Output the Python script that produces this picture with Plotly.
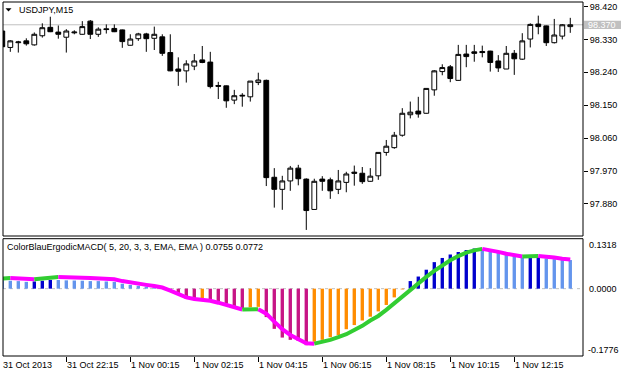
import plotly.graph_objects as go

# ---------------- data ----------------
OPEN = [98.353, 98.308, 98.321, 98.326, 98.315, 98.340, 98.363, 98.350, 98.336, 98.348,
        98.344, 98.380, 98.344, 98.359, 98.360, 98.356, 98.314, 98.332, 98.345, 98.333,
        98.337, 98.294, 98.249, 98.244, 98.257, 98.274, 98.268, 98.204, 98.203, 98.164,
        98.175, 98.173, 98.212, 98.218, 97.953, 97.920, 97.943, 97.978, 97.948, 97.865,
        97.948, 97.946, 97.920, 97.939, 97.967, 97.964, 97.942, 97.957, 98.021, 98.034,
        98.068, 98.124, 98.134, 98.128, 98.192, 98.242, 98.255, 98.218, 98.290, 98.296,
        98.297, 98.298, 98.271, 98.249, 98.292, 98.276, 98.331, 98.372, 98.367, 98.321,
        98.339, 98.365]
HIGH = [98.356, 98.328, 98.326, 98.333, 98.349, 98.374, 98.392, 98.368, 98.358, 98.355,
        98.380, 98.383, 98.363, 98.371, 98.371, 98.357, 98.344, 98.348, 98.348, 98.365,
        98.344, 98.344, 98.281, 98.273, 98.290, 98.312, 98.296, 98.214, 98.204, 98.192,
        98.183, 98.216, 98.239, 98.220, 97.978, 97.957, 97.984, 97.987, 97.950, 97.949,
        97.956, 97.952, 97.973, 97.968, 97.985, 97.981, 97.978, 98.021, 98.055, 98.077,
        98.142, 98.160, 98.173, 98.196, 98.246, 98.262, 98.260, 98.315, 98.315, 98.315,
        98.313, 98.299, 98.287, 98.312, 98.301, 98.347, 98.374, 98.395, 98.368, 98.386,
        98.372, 98.389]
LOW = [98.307, 98.296, 98.294, 98.313, 98.313, 98.335, 98.350, 98.332, 98.294, 98.344,
       98.343, 98.331, 98.337, 98.346, 98.350, 98.307, 98.313, 98.326, 98.296, 98.301,
       98.285, 98.243, 98.203, 98.212, 98.246, 98.265, 98.196, 98.167, 98.143, 98.153,
       98.146, 98.160, 98.205, 97.929, 97.870, 97.864, 97.916, 97.931, 97.809, 97.865,
       97.916, 97.894, 97.907, 97.912, 97.930, 97.935, 97.941, 97.946, 98.012, 98.031,
       98.064, 98.114, 98.116, 98.127, 98.176, 98.232, 98.213, 98.217, 98.254, 98.269,
       98.281, 98.242, 98.241, 98.249, 98.233, 98.274, 98.308, 98.344, 98.312, 98.319,
       98.330, 98.348]
CLOSE = [98.310, 98.326, 98.323, 98.318, 98.344, 98.362, 98.351, 98.344, 98.353, 98.350,
         98.365, 98.344, 98.358, 98.357, 98.351, 98.324, 98.331, 98.345, 98.332, 98.344,
         98.292, 98.244, 98.243, 98.263, 98.271, 98.267, 98.201, 98.202, 98.162, 98.176,
         98.177, 98.216, 98.219, 97.952, 97.920, 97.943, 97.978, 97.949, 97.862, 97.942,
         97.942, 97.916, 97.943, 97.962, 97.964, 97.941, 97.956, 98.021, 98.038, 98.068,
         98.128, 98.131, 98.126, 98.196, 98.244, 98.253, 98.223, 98.289, 98.283, 98.292,
         98.294, 98.267, 98.252, 98.292, 98.277, 98.326, 98.371, 98.365, 98.321, 98.342,
         98.370, 98.370]

HIST = [0.022, 0.021, 0.020, 0.018, 0.019, 0.021, 0.023, 0.0228, 0.022, 0.0215,
        0.021, 0.020, 0.020, 0.019, 0.018, 0.013, 0.010, 0.0075, 0.0055, 0.004,
        0.001, -0.003, -0.016, -0.027, -0.028, -0.025, -0.030, -0.034, -0.040, -0.047,
        -0.053, -0.049, -0.048, -0.075, -0.106, -0.129, -0.135, -0.138, -0.149, -0.140,
        -0.135, -0.128, -0.123, -0.107, -0.096, -0.084, -0.074, -0.060, -0.043, -0.023,
        -0.002, 0.020, 0.032, 0.050, 0.070, 0.081, 0.090, 0.097, 0.102, 0.106,
        0.104, 0.100, 0.095, 0.091, 0.086, 0.082, 0.083, 0.084, 0.080, 0.078,
        0.0765, 0.0755]
# L = light blue, D = dark blue, O = orange, P = violet-red
HIST_CODES = ("LLLL" "DDD" "LLLLLLLLLLLLLL" "PPPP" "O" "PPPPP" "OO" "PPPPPP"
              "OOOOOOOOOOOO" "DDDDDDDDD" "LLLLLL" "DD" "LLLL")

SIGNAL = [0.027, 0.028, 0.027, 0.026, 0.025, 0.027, 0.029, 0.031, 0.031, 0.030,
          0.029, 0.028, 0.027, 0.026, 0.025, 0.020, 0.016, 0.013, 0.010, 0.007,
          0.003, -0.005, -0.014, -0.023, -0.027, -0.029, -0.032, -0.037, -0.043, -0.049,
          -0.055, -0.055, -0.054, -0.066, -0.087, -0.107, -0.122, -0.134, -0.144, -0.145,
          -0.141, -0.135, -0.128, -0.120, -0.109, -0.098, -0.084, -0.072, -0.056, -0.038,
          -0.023, -0.004, 0.014, 0.031, 0.047, 0.062, 0.075, 0.086, 0.095, 0.101,
          0.105, 0.102, 0.097, 0.092, 0.088, 0.085, 0.085, 0.086, 0.085, 0.082,
          0.079, 0.0772]
# G = green (rising), M = magenta (falling)
SIG_CODES = ("GG" "MMM" "GGG" "MMMMMMMMMMMMMMMMMMMMMMM" "GG" "MMMMMMM"
             "GGGGGGGGGGGGGGGGGGGGG" "MMMMM" "GG" "MMMM")

TICK_POS = [0, 8, 16, 24, 32, 40, 48, 56, 64]
TICK_LABELS = ["31 Oct 2013", "31 Oct 22:15", "1 Nov 00:15", "1 Nov 02:15", "1 Nov 04:15",
               "1 Nov 06:15", "1 Nov 08:15", "1 Nov 10:15", "1 Nov 12:15"]
PRICE_TICKS = [98.420, 98.330, 98.240, 98.150, 98.060, 97.970, 97.880]
IND_MAX, IND_MIN = 0.1318, -0.1776
LAST_PRICE = 98.370
SYMBOL = "USDJPY,M15"
IND_NAME = "ColorBlauErgodicMACD( 5, 20, 3, 3, EMA, EMA ) 0.0755 0.0772"

# ---------------- style / layout ----------------
W, H = 622, 374
ML, MR, MTOP, MB = 3, 39, 2, 18
PW, PH = W - ML - MR, H - MTOP - MB
X_MIN, X_MAX = 0.0875, 72.59
Y_MIN, Y_MAX = 97.7924, 98.4323
MAIN_DOM = [(H - MB - 236) / PH, 1.0]
IND_DOM = [0.0, (H - MB - 238.7) / PH]
FONT = "Liberation Sans, Arial, sans-serif"
FS = 9

HCOL = {"L": "#6495ED", "D": "#0000CD", "O": "#FF8C00", "P": "#C71585"}
SCOL = {"G": "#32CD32", "M": "#FF00FF"}

X = list(range(len(OPEN)))

def px_x(p):
    return (p - ML) / PW

def px_y(p):
    return (H - MB - p) / PH

fig = go.Figure()

fig.add_trace(go.Candlestick(
    x=X, open=OPEN, high=HIGH, low=LOW, close=CLOSE,
    xaxis="x", yaxis="y", whiskerwidth=0,
    increasing=dict(line=dict(color="black", width=1), fillcolor="white"),
    decreasing=dict(line=dict(color="black", width=1), fillcolor="black"),
    showlegend=False, hoverinfo="skip"))

fig.add_trace(go.Bar(
    x=X, y=HIST, xaxis="x2", yaxis="y2", width=0.42,
    marker=dict(color=[HCOL[c] for c in HIST_CODES], line=dict(width=0)),
    showlegend=False, hoverinfo="skip"))

# signal line: segment (i-1 -> i) coloured by code of i, grouped into runs
runs = []
start = 1
for i in range(2, len(X) + 1):
    if i == len(X) or SIG_CODES[i] != SIG_CODES[start]:
        runs.append((start, i - 1))
        start = i
for a, b in runs:
    xs = X[a - 1:b + 1]
    ys = SIGNAL[a - 1:b + 1]
    fig.add_trace(go.Scatter(
        x=xs, y=ys, xaxis="x2", yaxis="y2", mode="lines",
        line=dict(color=SCOL[SIG_CODES[a]], width=4),
        showlegend=False, hoverinfo="skip"))

shapes = [
    dict(type="line", xref="paper", yref="y", x0=0, x1=1, y0=LAST_PRICE, y1=LAST_PRICE,
         line=dict(color="#C0C0C0", width=1), layer="below"),
    dict(type="line", xref="paper", yref="y2", x0=0, x1=1, y0=0, y1=0,
         line=dict(color="#C0C0C0", width=1, dash="3px,4px"), layer="below"),
    dict(type="rect", xref="paper", yref="paper", x0=0, x1=1, y0=MAIN_DOM[0], y1=1,
         line=dict(color="black", width=1), fillcolor="rgba(0,0,0,0)", layer="above"),
    dict(type="rect", xref="paper", yref="paper", x0=0, x1=1, y0=0, y1=IND_DOM[1],
         line=dict(color="black", width=1), fillcolor="rgba(0,0,0,0)", layer="above"),
    dict(type="rect", xref="paper", yref="y", x0=px_x(584), x1=px_x(621),
         y0=LAST_PRICE - 0.0112, y1=LAST_PRICE + 0.0112,
         fillcolor="#C0C0C0", line=dict(width=0), layer="above"),
    dict(type="path", xref="paper", yref="paper",
         path="M {} {} L {} {} L {} {} Z".format(px_x(5.5), px_y(8.3), px_x(11.5), px_y(8.3),
                                                 px_x(8.5), px_y(11.6)),
         fillcolor="black", line=dict(width=0), layer="above"),
]

ann = [
    dict(text=SYMBOL, xref="paper", yref="paper", x=px_x(17), y=px_y(9.7),
         xanchor="left", yanchor="middle", showarrow=False,
         font=dict(family=FONT, size=FS, color="black")),
    dict(text=IND_NAME, xref="paper", yref="paper", x=px_x(4.5), y=px_y(246.7),
         xanchor="left", yanchor="middle", showarrow=False,
         font=dict(family=FONT, size=FS, color="black")),
    dict(text="{:.3f}".format(LAST_PRICE), xref="paper", yref="y", x=1, y=LAST_PRICE,
         xanchor="left", yanchor="middle", xshift=3, showarrow=False,
         font=dict(family=FONT, size=FS, color="white")),
    dict(text="{:.4f}".format(IND_MAX), xref="paper", yref="y2", x=1, y=IND_MAX,
         xanchor="left", yanchor="top", xshift=4, yshift=1, showarrow=False,
         font=dict(family=FONT, size=FS, color="black")),
    dict(text="{:.4f}".format(0.0), xref="paper", yref="y2", x=1, y=0,
         xanchor="left", yanchor="middle", xshift=4, showarrow=False,
         font=dict(family=FONT, size=FS, color="black")),
    dict(text="{:.4f}".format(IND_MIN), xref="paper", yref="y2", x=1, y=IND_MIN,
         xanchor="left", yanchor="bottom", xshift=3, yshift=-1, showarrow=False,
         font=dict(family=FONT, size=FS, color="black")),
]
for pos, lab in zip(TICK_POS, TICK_LABELS):
    ann.append(dict(text=lab, xref="paper", yref="paper",
                    x=(pos - X_MIN) / (X_MAX - X_MIN), y=0,
                    xanchor="left", yanchor="top", xshift=-1, yshift=-2, showarrow=False,
                    font=dict(family=FONT, size=FS, color="black")))

fig.update_layout(
    width=W, height=H, margin=dict(l=ML, r=MR, t=MTOP, b=MB, pad=0),
    paper_bgcolor="white", plot_bgcolor="white",
    boxgap=0.25, boxgroupgap=0.2, showlegend=False,
    font=dict(family=FONT, size=FS, color="black"),
    xaxis=dict(domain=[0, 1], anchor="y", range=[X_MIN, X_MAX], showgrid=False,
               zeroline=False, showticklabels=False, ticks="", showline=False,
               rangeslider=dict(visible=False), fixedrange=True),
    yaxis=dict(domain=MAIN_DOM, anchor="x", side="right", range=[Y_MIN, Y_MAX],
               tickvals=PRICE_TICKS, ticktext=["{:.3f}".format(v) for v in PRICE_TICKS],
               ticks="outside", ticklen=4, tickcolor="black", showgrid=False,
               zeroline=False, showline=False, fixedrange=True, automargin=False,
               tickfont=dict(family=FONT, size=FS, color="black")),
    xaxis2=dict(domain=[0, 1], anchor="y2", range=[X_MIN, X_MAX], showgrid=False,
                zeroline=False, showticklabels=False, tickvals=TICK_POS,
                ticks="outside", ticklen=5, tickcolor="black", showline=False,
                fixedrange=True, automargin=False),
    yaxis2=dict(domain=IND_DOM, anchor="x2", side="right", range=[IND_MIN, IND_MAX],
                showticklabels=False, ticks="", showgrid=False, zeroline=False,
                showline=False, fixedrange=True, automargin=False),
    shapes=shapes, annotations=ann,
)

fig.write_html("out.html", config={"displayModeBar": False, "staticPlot": True},
               post_script="document.body.style.margin='0';document.body.style.padding='0';")
